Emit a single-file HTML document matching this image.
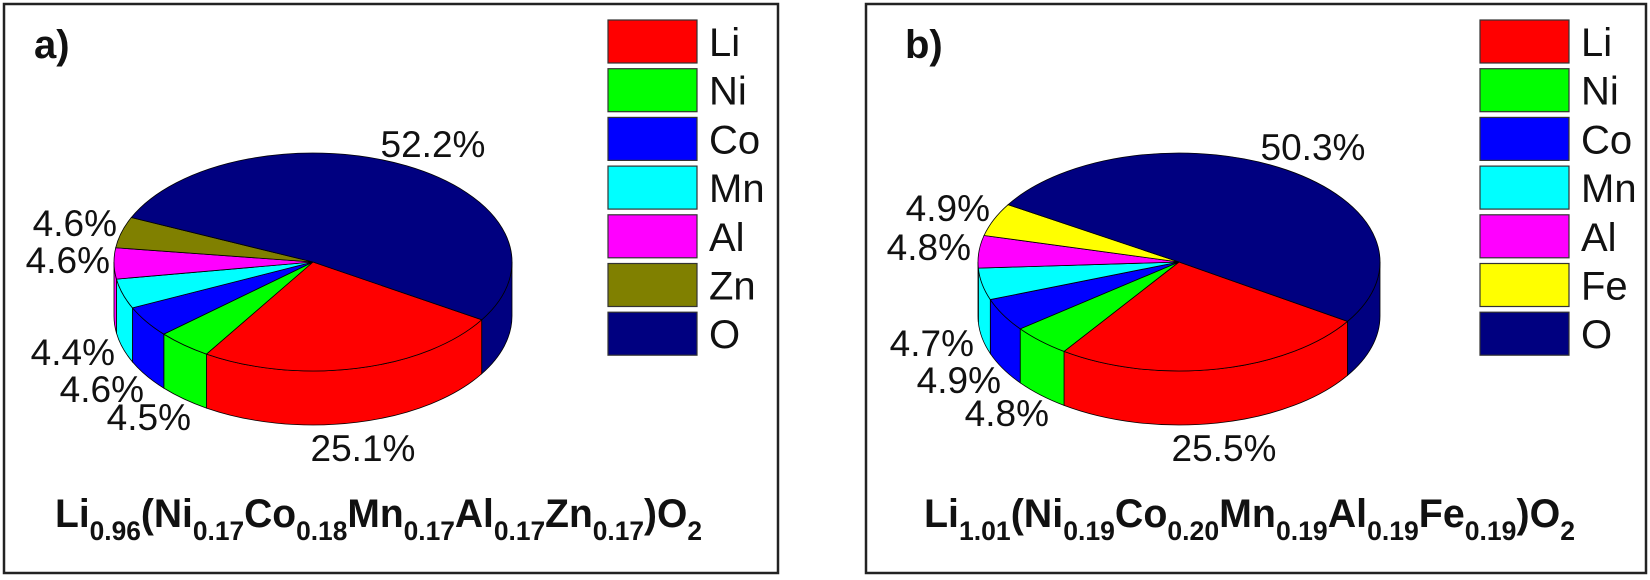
<!DOCTYPE html>
<html><head><meta charset="utf-8"><style>
html,body{margin:0;padding:0;background:#fff;}
svg{display:block;}
text{font-family:"Liberation Sans",Arial,sans-serif;}
</style></head><body>
<svg id="fig" width="1650" height="580" viewBox="0 0 1650 580" xmlns="http://www.w3.org/2000/svg">
  <rect x="4" y="4" width="774" height="569" fill="#fff" stroke="#222" stroke-width="2.5"/>
  <rect x="866" y="4" width="780" height="569" fill="#fff" stroke="#222" stroke-width="2.5"/>
  <g id="panelA"></g>
  <g id="panelB"></g>
</svg>
<script>
const categoriesA = ["Li","Ni","Co","Mn","Al","Zn","O"];
const valuesA = [25.1, 4.5, 4.6, 4.4, 4.6, 4.6, 52.2];
const colorsA = ["#ff0000","#00ff00","#0000ff","#00ffff","#ff00ff","#808000","#000080"];
const categoriesB = ["Li","Ni","Co","Mn","Al","Fe","O"];
const valuesB = [25.5, 4.8, 4.9, 4.7, 4.8, 4.9, 50.3];
const colorsB = ["#ff0000","#00ff00","#0000ff","#00ffff","#ff00ff","#ffff00","#000080"];
const formulaA = [["Li","0.96"],["(Ni","0.17"],["Co","0.18"],["Mn","0.17"],["Al","0.17"],["Zn","0.17"],[")O","2"]];
const formulaB = [["Li","1.01"],["(Ni","0.19"],["Co","0.20"],["Mn","0.19"],["Al","0.19"],["Fe","0.19"],[")O","2"]];

// layout (not data)
const layoutA = {tag:"a)", tagX:34, cx:313, cy:262, rx:199, ry:109, depth:54, start:32,
  legX:608, legTextX:709, formX:55, formW:647,
  labels:[[363,461,"middle"],[191,430,"end"],[144,402,"end"],[115,365,"end"],[110,273,"end"],[117,236,"end"],[433,157,"middle"]]};
const layoutB = {tag:"b)", tagX:905, cx:1179, cy:262, rx:201, ry:109, depth:54, start:33,
  legX:1480, legTextX:1581, formX:924, formW:651,
  labels:[[1224,461,"middle"],[1049,426,"end"],[1001,393,"end"],[974,356,"end"],[971,260,"end"],[990,221,"end"],[1313,160,"middle"]]};

const NS = "http://www.w3.org/2000/svg";
function mk(tag, attrs, parent){
  const e = document.createElementNS(NS, tag);
  for (const k in attrs) e.setAttribute(k, attrs[k]);
  parent.appendChild(e); return e;
}
function drawPanel(g, cats, vals, cols, L, formula, suffix){
  const total = vals.reduce((a,b)=>a+b,0);
  const rad = d => d*Math.PI/180;
  const px = (a, dy) => [L.cx + L.rx*Math.cos(rad(a)), L.cy + dy + L.ry*Math.sin(rad(a))];
  const angles = [];
  let a = L.start;
  vals.forEach(v => { const s = a; a += v/total*360; angles.push([s, a]); });
  angles.forEach(([s,e], i) => {
    [0,360].forEach(off => {
      const lo = Math.max(s, off), hi = Math.min(e, off+180);
      if (hi - lo <= 0.01) return;
      const p1 = px(lo,0), p2 = px(hi,0), p3 = px(hi,L.depth), p4 = px(lo,L.depth);
      const d = `M${p1} A${L.rx},${L.ry} 0 0 1 ${p2} L${p3} A${L.rx},${L.ry} 0 0 0 ${p4} Z`;
      const w = mk("path", {d:d, fill:cols[i], stroke:"#000", "stroke-width":"0.8"}, g);
      
      
    });
  });
  angles.forEach(([s,e], i) => {
    const p1 = px(s,0), p2 = px(e,0);
    const large = (e-s) > 180 ? 1 : 0;
    const d = `M${L.cx},${L.cy} L${p1} A${L.rx},${L.ry} 0 ${large} 1 ${p2} Z`;
    const t = mk("path", {d:d, fill:cols[i], stroke:"#000", "stroke-width":"0.8"}, g);
    
    
  });
  vals.forEach((v,i) => {
    const [x,y,anc] = L.labels[i];
    const t = mk("text", {x:x, y:y, "text-anchor":anc, "font-size":"37", fill:"#111"}, g);
    t.textContent = v.toFixed(1) + "%";
    
    
  });
  cats.forEach((c,i) => {
    const y = 20 + i*48.7;
    const r = mk("rect", {x:L.legX, y:y, width:89, height:43, fill:cols[i], stroke:"#333", "stroke-width":"1.2"}, g);
    
    
    const t = mk("text", {x:L.legTextX, y:y+36, "font-size":"40", fill:"#111"}, g);
    t.textContent = c;
    
    
  });
  const tg = mk("text", {x:L.tagX, y:58, "font-size":"40", "font-weight":"bold", fill:"#111"}, g);
  tg.textContent = L.tag;
  
  
  const f = mk("text", {x:L.formX, y:527, "font-size":"40", "font-weight":"bold", fill:"#111",
    textLength:L.formW, lengthAdjust:"spacingAndGlyphs"}, g);
  
  
  formula.forEach(([m,s]) => {
    const a1 = mk("tspan", {y:"527"}, f); a1.textContent = m;
    const a2 = mk("tspan", {"font-size":"27", y:"540"}, f); a2.textContent = s;
  });
}
drawPanel(document.getElementById("panelA"), categoriesA, valuesA, colorsA, layoutA, formulaA, "a");
drawPanel(document.getElementById("panelB"), categoriesB, valuesB, colorsB, layoutB, formulaB, "b");
</script>
</body></html>
